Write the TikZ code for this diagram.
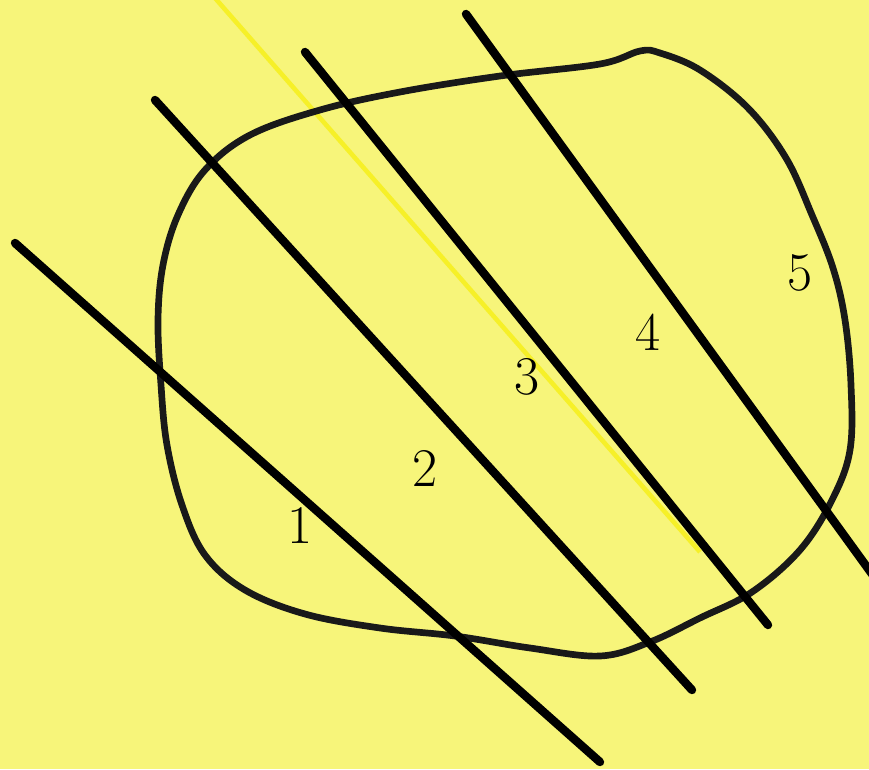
\documentclass[tikz,border=0pt]{standalone}
\usepackage{xcolor}
\usepackage{tikz}
\usetikzlibrary{calc}

\definecolor{paper}{RGB}{247,245,122}
\definecolor{ray}{RGB}{246,240,40}

\begin{document}
\begin{tikzpicture}[
  x=0.01cm, y=-0.01cm,
  cut/.style={line width=2.4pt, line cap=round, black},
  rim/.style={line width=1.9pt, black!90},
  faint/.style={line width=1.3pt, ray},
  num/.style={font=\fontsize{15.5}{16}\selectfont, inner sep=0pt}
]

\fill[paper] (0,0) rectangle (869,769);
\useasboundingbox (0,0) rectangle (869,769);

% end points of the chords
\coordinate (a1) at (15,243);  \coordinate (b1) at (600,762);
\coordinate (a2) at (155,100); \coordinate (b2) at (692,690);
\coordinate (a3) at (305,52);  \coordinate (b3) at (768,625);
\coordinate (a4) at (466,14);  \coordinate (b4) at (880,585);
\coordinate (ya) at (215,-2);  \coordinate (yb) at (700,552);

% the faint line
\draw[faint] (ya) -- (yb);

% the region
\draw[rim] plot[smooth cycle, tension=0.6] coordinates {
  (640,51) (600,64) (500,76) (400,92) (320,110) (250,135) (205,170)
  (178,215) (163,265) (158,320) (161,385) (167,445) (182,505) (205,555)
  (245,590) (305,614) (380,628) (455,636) (530,648) (600,656) (650,642)
  (700,618) (752,592) (800,550) (832,500) (850,450) (851,385) (845,320)
  (833,268) (812,215) (786,158) (748,108) (700,70) (660,53)};

% the chords
\draw[cut] (a1) -- (b1);
\draw[cut] (a2) -- (b2);
\draw[cut] (a3) -- (b3);
\draw[cut] (a4) -- (b4);

% labels
\node[num] (n1) at (300,525) {1};
\node[num] (n2) at (425,468) {2};
\node[num] (n3) at (527,377) {3};
\node[num] (n4) at (648,332) {4};
\node[num] (n5) at (800,273) {5};

\end{tikzpicture}
\end{document}
